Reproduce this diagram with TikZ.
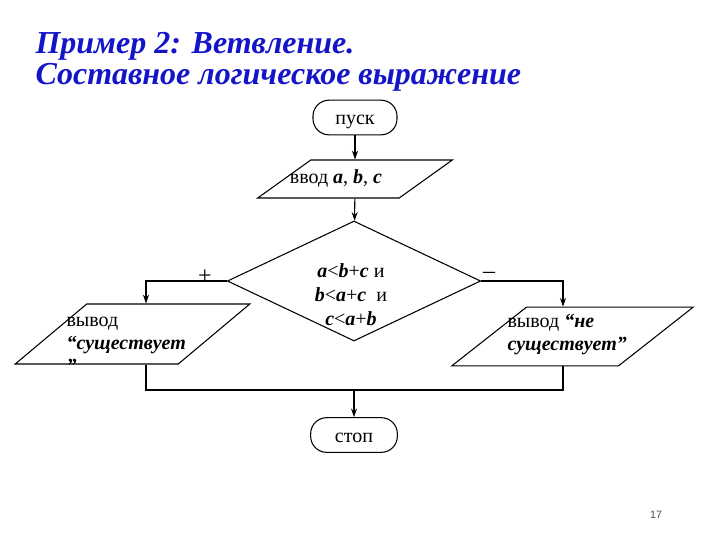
\documentclass[tikz,border=0pt]{standalone}
\usepackage{fontspec}
\setmainfont{Liberation Serif}
\newfontfamily\pagefont{Liberation Sans}
\usetikzlibrary{shapes.geometric,arrows.meta,positioning}
\definecolor{titleblue}{RGB}{20,20,200}
\newcommand{\bv}[1]{\textbf{\textit{#1}}}

\begin{document}
\begin{tikzpicture}[x=0.75pt,y=-0.75pt, line width=0.8pt,
    term/.style={draw, rounded corners=12pt, minimum width=63pt, minimum height=26pt, text height=11.2pt, text depth=0pt, font=\fontsize{15}{17}\selectfont},
    io/.style={draw, trapezium, trapezium stretches=true, inner sep=2pt},
    cond/.style={draw, diamond, inner sep=2pt, minimum width=190pt, minimum height=90pt},
    txt/.style={font=\fontsize{15}{17.25}\selectfont, inner sep=0pt, align=left},
    title/.style={font=\fontsize{24}{28}\selectfont\bfseries\itshape, text=titleblue, inner sep=0pt, anchor=base west},
    sign/.style={font=\fontsize{18}{18}\selectfont, inner sep=0pt},
    flow/.style={line width=0.8pt},
    arr/.style={flow, -{Stealth[length=6.5pt,width=4.5pt]}}
]
\useasboundingbox (0,0) rectangle (720,540);

% Title
\node[title] (title1) at (35,53) {Пример 2: Ветвление.};
\node[title] (title2) at (35,84) {Составное логическое выражение};

% Blocks
\node[term] (start) at (355,117.5) {пуск};
\node[io, trapezium left angle=59, trapezium right angle=121, minimum width=146pt, minimum height=28.5pt] (input) at (355,179) {};
\node[txt] (inputtxt) at (336,178) {ввод \bv{a}, \bv{b}, \bv{c}};

\node[cond] (check) at (354,281) {};
\node[txt, align=center, font=\fontsize{15}{18}\selectfont] (checktxt) at (351,295)
  {\bv{a}<\bv{b}+\bv{c} и\\ \bv{b}<\bv{a}+\bv{c} \ и\\ \bv{c}<\bv{a}+\bv{b}};

\node[io, trapezium left angle=52, trapezium right angle=128, minimum width=176pt, minimum height=45pt] (outyes) at (132.5,334) {};
\node[txt, anchor=west] (outyestxt) at (66,345) {вывод\\ \bv{“существует}\\ \bv{”}};

\node[io, trapezium left angle=51, trapezium right angle=129, minimum width=181pt, minimum height=44pt] (outno) at (572.5,336.5) {};
\node[txt, anchor=west] (outnotxt) at (507,335) {вывод \bv{“не}\\ \bv{существует”}};

\node[term, minimum width=65pt] (stop) at (354,435) {стоп};

% Branch labels
\node[sign] (yeslbl) at (205,277) {+};
\node[sign] (nolbl) at (489,275) {--};

% Bends
\coordinate (yesbend) at (146,281);
\coordinate (nobend) at (563,281);
\coordinate (merge) at (354,390);

% Connections
\draw[arr] (start) -- (input);
\draw[arr] (input) -- (check);
\draw[arr] (check.west) -- (yesbend) -- (yesbend |- outyes.north);
\draw[arr] (check.east) -- (nobend) -- (nobend |- outno.north);
\draw[flow] (yesbend |- outyes.south) -- (yesbend |- merge) -- (nobend |- merge) -- (nobend |- outno.south);
\draw[arr] (merge) -- (stop);

% Page number
\node[font=\pagefont\fontsize{8}{9}\selectfont, text=black!70] (pagenum) at (656,515) {17};
\end{tikzpicture}
\end{document}
